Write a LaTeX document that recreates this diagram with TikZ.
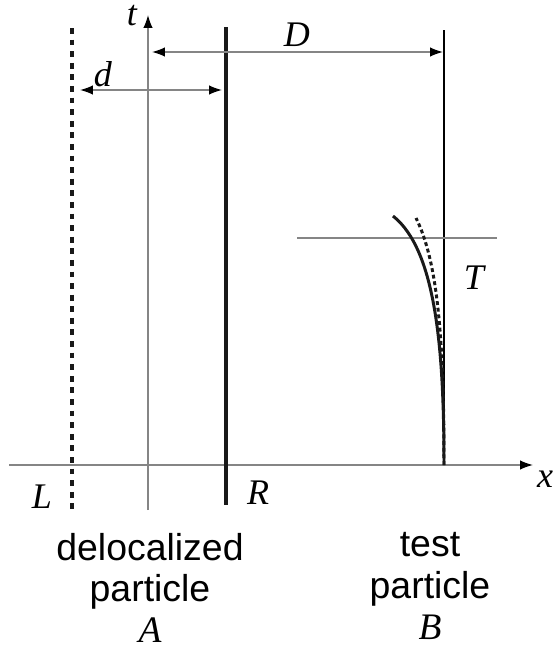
\documentclass[tikz,border=0pt]{standalone}
\usepackage{fontspec}
\setmainfont{Liberation Sans}
\newfontfamily\serifit{Liberation Serif}[ItalicFont={Liberation Serif Italic}]
\usepackage{xcolor}
\usepackage{tikz}
\usetikzlibrary{arrows.meta, calc, positioning}
\definecolor{truc}{HTML}{858585}
\newcommand{\bien}[1]{{\serifit\itshape #1}}

\begin{document}
\begin{tikzpicture}[x=0.02cm, y=-0.02cm,
    >={Latex[length=0.26cm, width=0.19cm, color=black]},
    thin line/.style={truc, line width=0.8pt},
    day/.style={black!90, line width=2pt},
    nhan/.style={font=\fontsize{20.5}{24}\selectfont},
    chu/.style={align=center, font=\fontsize{21.3}{23.5}\selectfont}]
    \useasboundingbox (0,0) rectangle (553,649);

    % Các mốc
    \coordinate (O) at (148,465);
    \coordinate (xL) at (9,465);
    \coordinate (xR) at (533,465);
    \coordinate (tB) at (148,510);
    \coordinate (tT) at (148,15);
    \coordinate (Lt) at (72,28);
    \coordinate (Lb) at (72,514);
    \coordinate (Rt) at (226,27);
    \coordinate (Rb) at (226,505);
    \coordinate (Bt) at (444,30);
    \coordinate (B0) at (444,465);
    \coordinate (Tl) at (297,238);
    \coordinate (Tr) at (497,238);

    % Vẽ hệ trục
    \draw[thin line, ->] (xL) -- (xR);
    \draw[thin line, ->] (tB) -- (tT);
    \node[nhan] (nx) at (545,479) {\bien{x}};
    \node[nhan] (nt) at (132,16) {\bien{t}};
    \draw[black, line width=0.7pt] (Bt) -- (B0);
    \draw[thin line] (Tl) -- (Tr);
    \node[nhan] (nT) at (474,278) {\bien{T}};

    % Hai biên của hạt A
    \draw[day, dash pattern=on 3.3pt off 3.3pt] (Lt) -- (Lb);
    \draw[day] (Rt) -- (Rb);
    \node[nhan] (nL) at (42,497) {\bien{L}};
    \node[nhan] (nR) at (258,493) {\bien{R}};

    % Khoảng cách d và D
    \coordinate (dl) at (72,90);
    \coordinate (dr) at (226,90);
    \coordinate (Dl) at (148,52);
    \coordinate (Dr) at (444,52);
    \draw[thin line, <->] ($(dl)+(8,0)$) -- ($(dr)+(-4,0)$);
    \draw[thin line, <->] ($(Dl)+(4,0)$) -- ($(Dr)+(-1,0)$);
    \node[nhan] (nd) at (103,74) {\bien{d}};
    \node[nhan] (nD) at (297,35) {\bien{D}};

    % Quỹ đạo hạt thử
    \draw[day, line width=1.7pt] (B0) .. controls (444,350) and (436,250) .. (393,216);
    \draw[day, line width=1.7pt, dash pattern=on 2.2pt off 1.6pt] (B0) .. controls (444,340) and (438,262) .. (416,218);

    % Chú thích
    \node[chu] (nA) at (150,588) {delocalized\\particle\\\bien{A}};
    \node[chu] (nB) at (430,586) {test\\particle\\\bien{B}};
\end{tikzpicture}
\end{document}
